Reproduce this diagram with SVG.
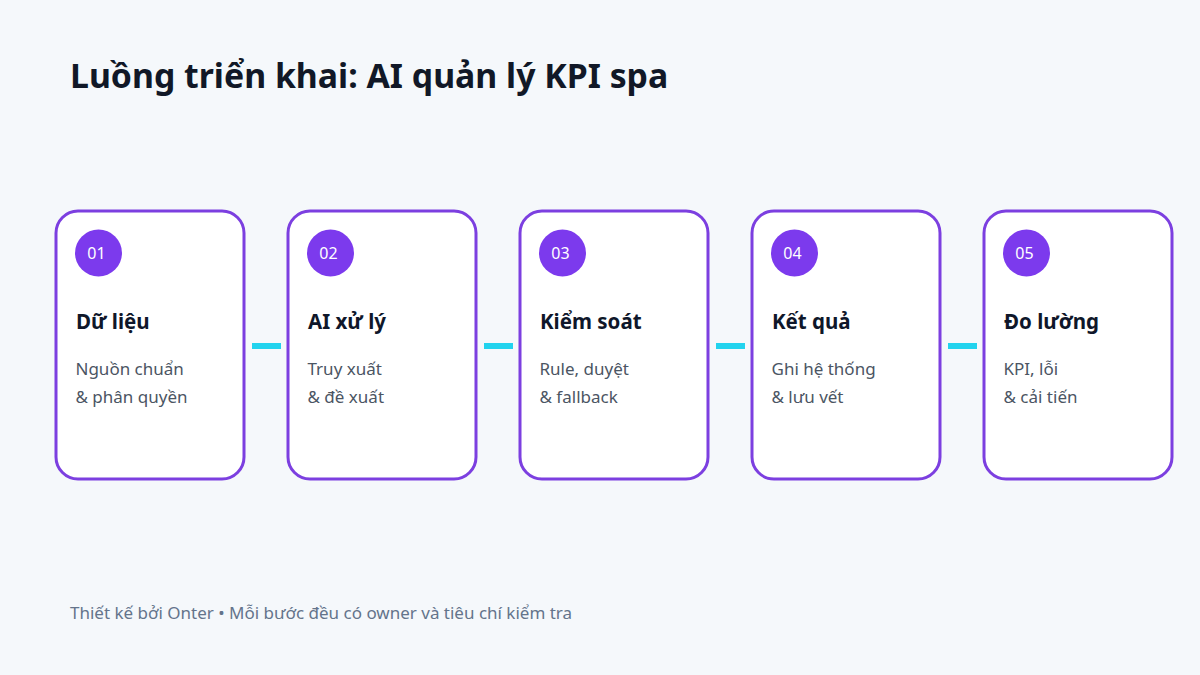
<svg xmlns="http://www.w3.org/2000/svg" width="1200" height="675" viewBox="0 0 1200 675">
<style>
.card{fill:#ffffff;stroke:#7c3fe0;stroke-width:3}
.badge{fill:#7c3aed}
.num{font-family:"Noto Sans","Open Sans",sans-serif;font-size:16px;fill:#ffffff}
.head{font-family:"Noto Sans","Open Sans",sans-serif;font-size:20.5px;font-weight:700;fill:#0f172a}
.desc{font-family:"Noto Sans","Open Sans",sans-serif;font-size:17px;fill:#4b5563}
.conn{fill:#22d3ee}
</style>
<rect width="1200" height="675" fill="#f5f8fb"/>
<text x="70" y="88" font-family="'Noto Sans','Open Sans',sans-serif" font-size="33.8" font-weight="700" fill="#111827">Luồng triển khai: AI quản lý KPI spa</text>
<g id="connectors">
<rect class="conn" x="252" y="343" width="29" height="6"/>
<rect class="conn" x="484" y="343" width="29" height="6"/>
<rect class="conn" x="716" y="343" width="29" height="6"/>
<rect class="conn" x="948" y="343" width="29" height="6"/>
</g>
<g id="step1">
<rect class="card" x="56" y="211" width="188" height="268" rx="22"/>
<circle class="badge" cx="98.5" cy="253" r="23.5"/>
<text class="num" x="96.5" y="259" text-anchor="middle">01</text>
<text class="head" x="76" y="329">Dữ liệu</text>
<text class="desc" x="75.5" y="375">Nguồn chuẩn</text>
<text class="desc" x="75.5" y="403">&amp; phân quyền</text>
</g>
<g id="step2">
<rect class="card" x="288" y="211" width="188" height="268" rx="22"/>
<circle class="badge" cx="330.5" cy="253" r="23.5"/>
<text class="num" x="328.5" y="259" text-anchor="middle">02</text>
<text class="head" x="308" y="329">AI xử lý</text>
<text class="desc" x="307.5" y="375">Truy xuất</text>
<text class="desc" x="307.5" y="403">&amp; đề xuất</text>
</g>
<g id="step3">
<rect class="card" x="520" y="211" width="188" height="268" rx="22"/>
<circle class="badge" cx="562.5" cy="253" r="23.5"/>
<text class="num" x="560.5" y="259" text-anchor="middle">03</text>
<text class="head" x="540" y="329">Kiểm soát</text>
<text class="desc" x="539.5" y="375">Rule, duyệt</text>
<text class="desc" x="539.5" y="403">&amp; fallback</text>
</g>
<g id="step4">
<rect class="card" x="752" y="211" width="188" height="268" rx="22"/>
<circle class="badge" cx="794.5" cy="253" r="23.5"/>
<text class="num" x="792.5" y="259" text-anchor="middle">04</text>
<text class="head" x="772" y="329">Kết quả</text>
<text class="desc" x="771.5" y="375">Ghi hệ thống</text>
<text class="desc" x="771.5" y="403">&amp; lưu vết</text>
</g>
<g id="step5">
<rect class="card" x="984" y="211" width="188" height="268" rx="22"/>
<circle class="badge" cx="1026.5" cy="253" r="23.5"/>
<text class="num" x="1024.5" y="259" text-anchor="middle">05</text>
<text class="head" x="1004" y="329">Đo lường</text>
<text class="desc" x="1003.5" y="375">KPI, lỗi</text>
<text class="desc" x="1003.5" y="403">&amp; cải tiến</text>
</g>
<text x="70" y="619" font-family="'Noto Sans','Open Sans',sans-serif" font-size="17" fill="#64748b">Thiết kế bởi Onter • Mỗi bước đều có owner và tiêu chí kiểm tra</text>
</svg>
